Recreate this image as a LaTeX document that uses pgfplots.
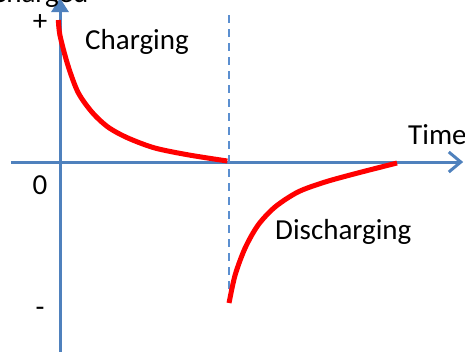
\documentclass[border=0pt]{standalone}
\usepackage{pgfplots}
\pgfplotsset{compat=1.18}
\usepackage{fontspec}
\setmainfont{Carlito}
\usetikzlibrary{arrows.meta}
\definecolor{axisblue}{HTML}{4F81BD}
\definecolor{dashblue}{HTML}{5B8FD0}

\begin{document}
\begin{tikzpicture}
\begin{axis}[
    scale only axis,
    width=465pt, height=352pt,
    xmin=-0.355, xmax=2.396,
    ymin=-1.338, ymax=1.141,
    axis lines=none,
    clip=false,
    font=\fontsize{29}{34}\selectfont,
]
% axes
\draw[axisblue, line width=3pt, -{Triangle[length=14pt,width=17pt]}]
    (axis cs:0,-1.34) -- (axis cs:0,1.155);
\draw[axisblue, line width=3pt, -{Straight Barb[length=12pt,width=20pt]}]
    (axis cs:-0.29,0) -- (axis cs:2.385,0);
\draw[dashblue, line width=2pt, dash pattern=on 8pt off 6pt]
    (axis cs:1,1.035) -- (axis cs:1,-1.007);

% charging
\addplot[red, line width=5pt, smooth, tension=0.5] coordinates {
    (-0.01,1.0) (0.0,0.89) (0.047,0.68) (0.107,0.49) (0.19,0.35)
    (0.284,0.246) (0.40,0.17) (0.56,0.099) (0.76,0.05) (0.99,0.007)
};
% discharging
\addplot[red, line width=5pt, smooth, tension=0.5] coordinates {
    (1.0,-0.993) (1.036,-0.796) (1.095,-0.606) (1.172,-0.444) (1.272,-0.317)
    (1.408,-0.211) (1.568,-0.141) (1.763,-0.077) (1.994,-0.007)
};

\node[anchor=west, inner sep=0pt] at (axis cs:0.148,0.845) {Charging};
\node[anchor=west, inner sep=0pt] at (axis cs:1.272,-0.493) {Discharging};
\node[anchor=west, inner sep=0pt] at (axis cs:2.059,0.19) {Time};
\node at (axis cs:-0.118,-0.162) {0};
\node at (axis cs:-0.118,0.98) {+};
\node at (axis cs:-0.118,-1.056) {-};
\node[anchor=base west, inner sep=0pt] at (axis cs:-0.41,1.12) {Charged};

\coordinate (bl) at (rel axis cs:0,0);
\coordinate (tr) at (rel axis cs:1,1);
\end{axis}
\pgfresetboundingbox
\useasboundingbox (bl) rectangle (tr);
\end{tikzpicture}
\end{document}
